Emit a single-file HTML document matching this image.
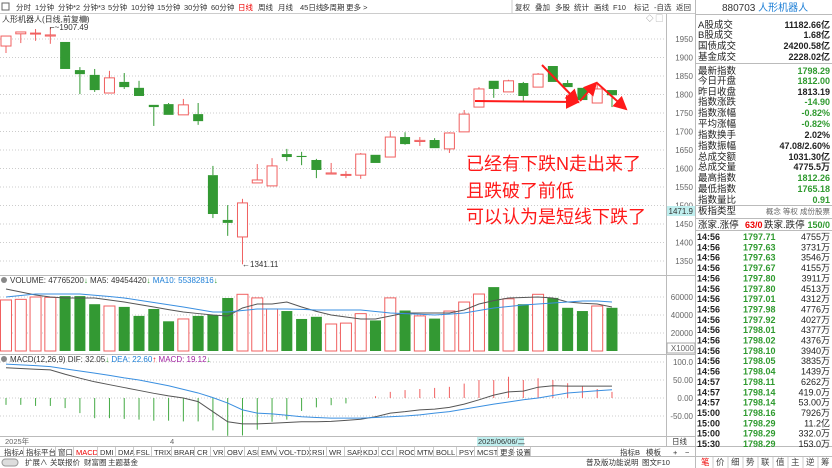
<!DOCTYPE html>
<html><head><meta charset="utf-8">
<style>
html,body{margin:0;padding:0;background:#fff;}
svg{display:block;font-family:"Liberation Sans","Noto Sans CJK SC",sans-serif;}
.t{font-size:7.5px;fill:#333;}
.ax{font-size:8px;fill:#666;text-anchor:end;}
.rp{font-size:9.5px;fill:#222;}
</style></head>
<body>
<svg id="s" width="832" height="468" viewBox="0 0 832 468" xmlns="http://www.w3.org/2000/svg">
  <rect x="0" y="0" width="832" height="468" fill="#fff"/>
  <g>
    <line x1="0" y1="13.5" x2="695" y2="13.5" stroke="#ccc"/>
    <rect x="2" y="3" width="7" height="7" fill="none" stroke="#666"/>
    <text class="t" x="16" y="10">分时</text>
    <text class="t" x="35" y="10">1分钟</text>
    <text class="t" x="58" y="10">分钟*2</text>
    <text class="t" x="83" y="10">分钟*3</text>
    <text class="t" x="108" y="10">5分钟</text>
    <text class="t" x="131" y="10">10分钟</text>
    <text class="t" x="157" y="10">15分钟</text>
    <text class="t" x="184" y="10">30分钟</text>
    <text class="t" x="211" y="10">60分钟</text>
    <text class="t" x="238" y="10" style="fill:#e00">日线</text>
    <text class="t" x="258" y="10">周线</text>
    <text class="t" x="278" y="10">月线</text>
    <text class="t" x="300" y="10">45日线</text>
    <text class="t" x="322" y="10">多周期</text>
    <text class="t" x="346" y="10">更多 &gt;</text>
  </g>
  <g>
    <line x1="512" y1="0" x2="512" y2="13" stroke="#ccc"/>
    <text class="t" x="515" y="10">复权</text>
    <text class="t" x="535" y="10">叠加</text>
    <text class="t" x="555" y="10">多股</text>
    <text class="t" x="574" y="10">统计</text>
    <text class="t" x="594" y="10">画线</text>
    <text class="t" x="613" y="10">F10</text>
    <text class="t" x="634" y="10">标记</text>
    <text class="t" x="654" y="10">-自选</text>
    <text class="t" x="676" y="10">返回</text>
  </g>
  <text class="t" x="2" y="22" style="font-size:8px">人形机器人(日线,前复权)</text>
  <circle cx="84" cy="19" r="3.5" fill="#888"/>
  <text class="t" x="646" y="21" style="fill:#888">◇ ▢</text>

  <line x1="666.5" y1="14" x2="666.5" y2="446" stroke="#bbb"/>
  <line x1="695.5" y1="0" x2="695.5" y2="468" stroke="#bbb"/>
  <line x1="0" y1="275.5" x2="695" y2="275.5" stroke="#bbb"/>
  <line x1="0" y1="354.5" x2="695" y2="354.5" stroke="#bbb"/>
  <line x1="0" y1="436.5" x2="695" y2="436.5" stroke="#bbb"/>
  <line x1="0" y1="446.5" x2="832" y2="446.5" stroke="#bbb"/>
  <line x1="0" y1="456.5" x2="832" y2="456.5" stroke="#bbb"/>

  <g id="grid"></g>
  <g id="axes"></g>
  <rect x="667" y="206" width="28" height="10" fill="#bfeeee"/>
  <text class="ax" x="693" y="214" style="fill:#333">1471.9</text>

  <g id="candles"></g>
  <text class="t" x="50" y="30" style="font-size:8px">⌐~1907.49</text>
  <text class="t" x="242" y="267" style="font-size:8px">←1341.11</text>

  <g fill="#ff1a1a" font-size="18">
    <text x="466" y="170">已经有下跌N走出来了</text>
    <text x="466" y="197">且跌破了前低</text>
    <text x="466" y="223">可以认为是短线下跌了</text>
  </g>
  <defs><marker id="ah" markerWidth="7" markerHeight="7" refX="6" refY="3.5" orient="auto"><path d="M0,0 L7,3.5 L0,7 z" fill="#ff1a1a"/></marker></defs>
  <g stroke="#ff1a1a" stroke-width="2" fill="none">
    <line x1="475" y1="101" x2="578" y2="102" marker-end="url(#ah)"/>
    <line x1="542" y1="65" x2="578" y2="102" marker-end="url(#ah)"/>
    <line x1="580" y1="101" x2="596" y2="83" marker-end="url(#ah)"/>
    <line x1="597" y1="83" x2="626" y2="109" marker-end="url(#ah)"/>
  </g>

  <g font-size="8">
    <circle cx="4" cy="280" r="3" fill="#888"/>
    <text x="10" y="283" fill="#333">VOLUME: 47765200<tspan fill="#2f9a2f">↓</tspan> MA5: 49454420<tspan fill="#2f9a2f">↓</tspan> <tspan fill="#1e7fd6">MA10: 55382816</tspan><tspan fill="#2f9a2f">↓</tspan></text>
  </g>
  <g id="vol"></g>
  <rect x="667" y="343" width="28" height="10" fill="#fff" stroke="#aaa"/>
  <text class="ax" x="694" y="351">X1000</text>

  <g font-size="8">
    <circle cx="4" cy="359" r="3" fill="#888"/>
    <text x="10" y="362" fill="#333">MACD(12,26,9) DIF: 32.05<tspan fill="#2f9a2f">↓</tspan> <tspan fill="#1e7fd6">DEA: 22.60</tspan><tspan fill="#e00">↑</tspan> <tspan fill="#a020a0">MACD: 19.12</tspan><tspan fill="#2f9a2f">↓</tspan></text>
  </g>
  <g id="macd"></g>

  <text class="t" x="5" y="444" style="fill:#666">2025年</text>
  <text class="t" x="170" y="444" style="fill:#666">4</text>
  <rect x="477" y="437" width="47" height="9" fill="#bfeeee"/>
  <text class="t" x="478" y="444">2025/06/06/二</text>
  <text class="t" x="672" y="444">日线</text>

  <g id="tabs"></g>
  <text class="t" x="620" y="455">指标B</text>
  <text class="t" x="646" y="455">模板</text>
  <text class="t" x="673" y="455">+</text>
  <text class="t" x="685" y="455">−</text>

  <g>
    <rect x="2" y="459" width="16" height="7" rx="3.5" fill="#ddd" stroke="#999"/>
    <text class="t" x="25" y="465">扩展∧</text>
    <text class="t" x="50" y="465">关联报价</text>
    <text class="t" x="84" y="465">财富圈</text>
    <text class="t" x="108" y="465">主题基金</text>
    <text class="t" x="586" y="465">普及版功能说明</text>
    <text class="t" x="642" y="465">图文F10</text>
  </g>

  <g id="rp">
    <text x="722" y="11" font-size="10" fill="#333">880703 <tspan fill="#1e7fd6">人形机器人</tspan></text>
    <line x1="696" y1="14.5" x2="832" y2="14.5" stroke="#bbb"/>
    <line x1="696" y1="63.5" x2="832" y2="63.5" stroke="#bbb"/>
    <line x1="696" y1="205.5" x2="832" y2="205.5" stroke="#bbb"/>
    <line x1="696" y1="218.5" x2="832" y2="218.5" stroke="#bbb"/>
    <line x1="696" y1="230.5" x2="832" y2="230.5" stroke="#bbb"/>
  </g>
  <g id="ticks"></g>
  <g id="btabs"></g>
</svg>
<script>
const priceTicks = [1950,1900,1850,1800,1750,1700,1650,1600,1550,1500,1450,1400,1350];
const opens  = [1931,1964,1964,1958,1942,1866,1853,1804,1834,1818,1772,1774,1745,1747,1582,1461,1415,1561,1553,1639,1634,1623,1585,1582,1582,1637,1631,1685,1673,1677,1653,1699,1766,1837,1807,1831,1820,1877,1831,1818,1777,1812];
const closes = [1958,1969,1966,1961,1869,1855,1812,1845,1820,1796,1766,1745,1772,1728,1477,1453,1507,1569,1607,1631,1631,1596,1588,1584,1639,1615,1685,1666,1676,1655,1696,1747,1815,1815,1837,1796,1855,1834,1820,1785,1815,1798];
const highs  = [1958,1969,1977,1982,1942,1874,1869,1864,1858,1837,1772,1777,1788,1777,1607,1501,1518,1612,1628,1653,1645,1626,1615,1593,1642,1637,1701,1698,1685,1682,1698,1758,1820,1837,1840,1834,1858,1877,1839,1818,1834,1812];
const lows   = [1912,1939,1945,1937,1869,1801,1807,1804,1815,1796,1715,1745,1745,1718,1466,1418,1341,1561,1553,1620,1609,1574,1585,1574,1572,1615,1631,1664,1661,1655,1642,1699,1766,1791,1807,1780,1820,1834,1820,1785,1777,1766];
const volumes = [56700,57400,60000,59600,61000,61000,52000,50000,49000,39000,46700,33000,35600,39000,40000,58900,63000,59000,46700,44400,35600,38000,30000,31000,41500,34000,59000,45000,39000,36000,44400,54400,63300,71000,58000,52000,63000,59000,48000,44400,50000,48000];
const volMA5 = [68900,65500,62200,60000,58900,58900,58900,56700,54400,51700,48900,46000,43300,41600,40000,38900,47800,52200,52200,54400,48900,44000,40000,37800,35600,35600,38900,42200,42200,42200,42200,45600,52200,56000,58900,59500,60000,58900,54400,53000,52200,48900];
const volMA10 = [60000,61700,63300,63300,63300,63300,62000,60500,58900,56400,53900,51400,48900,46100,43300,43300,45000,46700,46700,46700,46200,45600,45600,45600,45600,43900,42200,41500,40800,40000,41000,42200,45000,47800,49400,51100,52200,53300,54400,55600,55600,54400];
const volTicks = [60000,40000,20000];
const macdHist = [-19,-19,-22,-22,-28,-42,-56,-56,-58,-60,-63,-63,-65,-65,-90,-105,-104,-88,-66,-60,-36,-26,-20,-15,0,5,17,22,25,28,31,40,50,50,59,50,55,50,41,33,25,17];
const difLine = [84,82,80,78,66,55,45,37,29,21,13,6,0,-10,-38,-66,-72,-72,-70,-68,-66,-66,-65,-62,-59,-52,-42,-38,-33,-31,-26,-17,-5,8,17,19,30,34,33,33,33,33];
const deaLine = [94,92,90,87,81,75,69,63,56,50,42,34,24,14,1,-14,-33,-42,-44,-48,-52,-54,-56,-56,-56,-54,-52,-50,-47,-42,-38,-31,-24,-17,-11,-5,0,7,14,17,20,23];
const macdTicks = [100,50,0,-50];
const macdTickLabels = ["100.0","50.00","0.00","-50.00"];

const NS='http://www.w3.org/2000/svg';
const xC = i => 6 + i*14.78;
const yP = p => 39 + (1950-p)/2.7027;
const yV = v => 351 - v/20000*18;
const yM = v => 398 - v*18/50;
const RED='#f06060', GREEN='#339933';
function mk(tag, attrs, parent){const e=document.createElementNS(NS,tag);for(const k in attrs)e.setAttribute(k,attrs[k]);parent.appendChild(e);return e;}
const grid=document.getElementById('grid'), axes=document.getElementById('axes');

priceTicks.forEach(p=>{
  const l=mk('line',{x1:0,x2:666,y1:yP(p),y2:yP(p),stroke:'#ccc','stroke-dasharray':'1,2'},grid);
  
  
  const t=mk('text',{x:693,y:yP(p)+3,class:'ax'},axes); t.textContent=p;
  
  
});
volTicks.forEach(v=>{
  mk('line',{x1:0,x2:666,y1:yV(v),y2:yV(v),stroke:'#ccc','stroke-dasharray':'1,2'},grid);
  const t=mk('text',{x:693,y:yV(v)+3,class:'ax'},axes); t.textContent=v;
  
  
});
macdTicks.forEach((v,i)=>{
  mk('line',{x1:0,x2:666,y1:yM(v),y2:yM(v),stroke:'#ccc','stroke-dasharray':'1,2'},grid);
  const t=mk('text',{x:693,y:yM(v)+3,class:'ax'},axes); t.textContent=macdTickLabels[i];
  
  
});

const cg=document.getElementById('candles');
opens.forEach((o,i)=>{
  const c=closes[i], up=c>=o, col=up?RED:GREEN, x=xC(i);
  const g=mk('g',{},cg);
  
  
  const top=yP(Math.max(o,c)), bot=yP(Math.min(o,c));
  mk('line',{x1:x,x2:x,y1:yP(highs[i]),y2:top,stroke:col},g);
  mk('line',{x1:x,x2:x,y1:bot,y2:yP(lows[i]),stroke:col},g);
  mk('rect',{x:x-5,y:top,width:10,height:Math.max(1,bot-top),fill:up?'#fff':GREEN,stroke:col,'stroke-width':up?1:0},g);
});

const vg=document.getElementById('vol');
volumes.forEach((v,i)=>{
  const up=closes[i]>=opens[i], x=xC(i);
  const r=mk('rect',{x:x-5.5,y:yV(v),width:11,height:351-yV(v),fill:up?'#fff':GREEN,stroke:up?RED:'none'},vg);
  
  
});
function poly(arr,fy,col,parent,name){
  const p=mk('polyline',{points:arr.map((v,i)=>xC(i)+','+fy(v)).join(' '),fill:'none',stroke:col,'stroke-width':1},parent);
  
  
}
poly(volMA5,yV,'#555',vg,'volume-ma5-line');
poly(volMA10,yV,'#3a8fe0',vg,'volume-ma10-line');

const mg=document.getElementById('macd');
macdHist.forEach((v,i)=>{
  const x=xC(i);
  const l=mk('line',{x1:x,x2:x,y1:yM(0),y2:yM(v),stroke:v>=0?RED:'#44aa44'},mg);
  
  
});
poly(difLine,yM,'#555',mg,'dif-line');
poly(deaLine,yM,'#3a8fe0',mg,'dea-line');

const tabNames=["指标A","指标平台","窗口","MACD","DMI","DMA","FSL","TRIX","BRAR","CR","VR","OBV","ASI","EMV","VOL-TDX","RSI","WR","SAR","KDJ","CCI","ROC","MTM","BOLL","PSY","MCST","更多","设置"];
const tabX=[3,25,57,75,99,117,135,153,173,196,212,226,246,260,278,311,328,346,362,380,398,416,435,458,476,499,515,532];
const tabsG=document.getElementById('tabs');
tabNames.forEach((n,i)=>{
  const t=mk('text',{x:tabX[i]+1,y:455,class:'t'},tabsG); t.textContent=n;
  if(n==='MACD') t.setAttribute('style','fill:#e00');
  
  
  mk('line',{x1:tabX[i+1]-1.5,x2:tabX[i+1]-1.5,y1:447,y2:456,stroke:'#ccc'},tabsG);
});

const statLabels=["A股成交","B股成交","国债成交","基金成交","最新指数","今日开盘","昨日收盘","指数涨跌","指数涨幅","平均涨幅","指数换手","指数振幅","总成交额","总成交量","最高指数","最低指数","指数量比"];
const statValues=["11182.66亿","1.68亿","24200.58亿","2228.02亿","1798.29","1812.00","1813.19","-14.90","-0.82%","-0.82%","2.02%","47.08/2.60%","1031.30亿","4775.5万","1812.26","1765.18","0.91"];
const statGreen=[0,0,0,0,1,1,0,1,1,1,0,0,0,0,1,1,1];
const statY=[25,35,46,57,71,81,92,102,113,124,135,146,157,167,178,189,200];
const rp=document.getElementById('rp');
statLabels.forEach((l,i)=>{
  const a=mk('text',{x:698,y:statY[i]+3,class:'rp'},rp); a.textContent=l;
  
  
  const b=mk('text',{x:830,y:statY[i]+3,'font-size':'9','text-anchor':'end',fill:statGreen[i]?'#2f9a2f':'#222','font-weight':'bold'},rp); b.textContent=statValues[i];
  
  
});
(function(){
  const a=mk('text',{x:698,y:214,class:'rp'},rp); a.textContent='板指类型';
  const b=mk('text',{x:830,y:214,'font-size':'7.5','text-anchor':'end',fill:'#666'},rp); b.textContent='概念 等权 成份股票';
  const c=mk('text',{x:698,y:228,class:'rp'},rp); c.textContent='涨家.涨停';
  const d=mk('text',{x:745,y:228,'font-size':'9',fill:'#e00','font-weight':'bold'},rp); d.textContent='63/0';
  const e=mk('text',{x:764,y:228,class:'rp'},rp); e.textContent='跌家.跌停';
  const f=mk('text',{x:830,y:228,'font-size':'9','text-anchor':'end',fill:'#2f9a2f','font-weight':'bold'},rp); f.textContent='150/0';
})();

const tickTimes=["14:56","14:56","14:56","14:56","14:56","14:56","14:56","14:56","14:56","14:56","14:56","14:56","14:56","14:56","14:57","14:57","14:57","15:00","15:00","15:00","15:30"];
const tickPrices=["1797.71","1797.63","1797.63","1797.67","1797.80","1797.80","1797.01","1797.98","1797.92","1798.01","1798.02","1798.10","1798.05","1798.04","1798.11","1798.14","1798.14","1798.16","1798.29","1798.29","1798.29"];
const tickVols=["4755万","3731万","3546万","4155万","3911万","4513万","4312万","4776万","4027万","4377万","4376万","3940万","3835万","1439万","6262万","419.0万","53.00万","7926万","11.2亿","332.0万","153.0万"];
const tk=document.getElementById('ticks');
tickTimes.forEach((t,i)=>{
  const y=240+i*10.35;
  const a=mk('text',{x:697,y:y,'font-size':'9','font-weight':'bold',fill:'#222'},tk); a.textContent=t;
  
  
  const b=mk('text',{x:743,y:y,'font-size':'9',fill:'#2f9a2f','font-weight':'bold'},tk); b.textContent=tickPrices[i];
  
  
  const c=mk('text',{x:830,y:y,'font-size':'9','text-anchor':'end',fill:'#222'},tk); c.textContent=tickVols[i];
  
  
});
const btNames=["笔","价","细","势","联","值","主","逆","筹"];
const bt=document.getElementById('btabs');
btNames.forEach((n,i)=>{
  const x=698+i*15;
  const t=mk('text',{x:x+3,y:465,'font-size':'8.5',fill:i===0?'#e00':'#444'},bt); t.textContent=n;
  
  
  mk('line',{x1:x+15,x2:x+15,y1:457,y2:468,stroke:'#ccc'},bt);
});
</script>
</body></html>
